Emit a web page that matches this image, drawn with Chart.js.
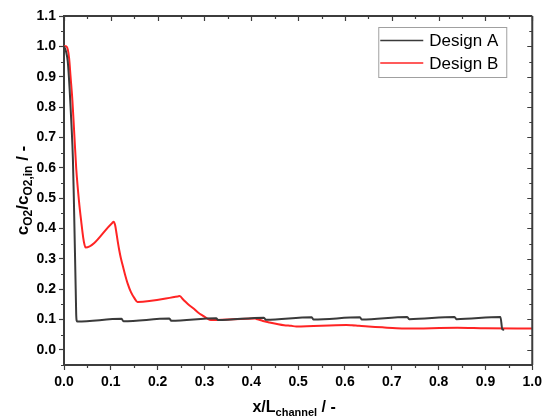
<!DOCTYPE html>
<html>
<head>
<meta charset="utf-8">
<script src="https://cdn.jsdelivr.net/npm/chart.js@4.4.1/dist/chart.umd.min.js"></script>
<style>
  html, body { margin: 0; padding: 0; background: #fff; }
</style>
</head>
<body>
<canvas id="chart-o2" width="546" height="416"></canvas>
<script>
// series names + colours
var seriesNames = ['Design A', 'Design B'];
var colors = ['#3a3a3a', '#ff2424'];

// Design A
var xA = [0, 0.004, 0.008, 0.012, 0.016, 0.019, 0.021, 0.023, 0.025, 0.026, 0.027, 0.029,
          0.123, 0.127, 0.225, 0.229, 0.325, 0.329, 0.427, 0.431, 0.529, 0.533,
          0.632, 0.636, 0.733, 0.737, 0.834, 0.838, 0.932, 0.936, 0.94];
var yA = [1.0, 0.985, 0.95, 0.86, 0.74, 0.63, 0.5, 0.35, 0.2, 0.12, 0.097, 0.093,
          0.102, 0.094, 0.103, 0.096, 0.104, 0.098, 0.106, 0.099, 0.107, 0.1,
          0.107, 0.1, 0.108, 0.101, 0.108, 0.101, 0.108, 0.068, 0.066];

// Design B
var xB = [0, 0.004, 0.008, 0.011, 0.014, 0.018, 0.022, 0.026, 0.032, 0.037, 0.041, 0.044, 0.046,
          0.103, 0.106, 0.109, 0.112, 0.115, 0.118, 0.121, 0.125, 0.13, 0.136, 0.143, 0.15, 0.157,
          0.243, 0.247, 0.255, 0.265, 0.276, 0.287, 0.297, 0.305, 0.311, 0.318,
          0.408, 0.413, 0.425, 0.439, 0.455, 0.47, 0.485, 0.496,
          0.603, 0.615, 0.63, 0.65, 0.68, 0.71, 0.73,
          0.84, 0.9, 1.0];
var yB = [1.0, 1.0, 0.99, 0.96, 0.9, 0.82, 0.71, 0.6, 0.49, 0.42, 0.37, 0.345, 0.337,
          0.418, 0.422, 0.412, 0.385, 0.355, 0.328, 0.305, 0.28, 0.25, 0.218, 0.19, 0.171, 0.158,
          0.176, 0.177, 0.165, 0.15, 0.137, 0.122, 0.112, 0.104, 0.099, 0.098,
          0.103, 0.101, 0.095, 0.09, 0.085, 0.081, 0.079, 0.077,
          0.082, 0.081, 0.079, 0.077, 0.074, 0.071, 0.07,
          0.073, 0.071, 0.07];

// ticks
var xTicks = [0.0, 0.1, 0.2, 0.3, 0.4, 0.5, 0.6, 0.7, 0.8, 0.9, 1.0];
var yTicks = [0.0, 0.1, 0.2, 0.3, 0.4, 0.5, 0.6, 0.7, 0.8, 0.9, 1.0, 1.1];

var axisColor = '#3c3c3c';
var fontName = '"Liberation Sans", Arial, sans-serif';

function toPoints(xs, ys) {
  return xs.map(function (x, i) { return { x: x, y: ys[i] }; });
}

// text with subscripts, parts = [[text, isSub], ...]
function drawRich(ctx, parts, x, y, size, subSize) {
  var total = 0;
  parts.forEach(function (p) {
    ctx.font = 'bold ' + (p[1] ? subSize : size) + 'px ' + fontName;
    total += ctx.measureText(p[0]).width;
  });
  var cx = x - total / 2;
  ctx.textAlign = 'left';
  ctx.textBaseline = 'alphabetic';
  parts.forEach(function (p) {
    ctx.font = 'bold ' + (p[1] ? subSize : size) + 'px ' + fontName;
    ctx.fillText(p[0], cx, y + (p[1] ? 4 : 0));
    cx += ctx.measureText(p[0]).width;
  });
}

// frame, minor ticks, inside ticks on top/right, axis titles
var framePlugin = {
  id: 'frame',
  afterDraw: function (chart) {
    var ctx = chart.ctx, a = chart.chartArea;
    var xs = chart.scales.x, ys = chart.scales.y;
    ctx.save();
    ctx.strokeStyle = axisColor;
    ctx.fillStyle = '#000';
    ctx.lineWidth = 2;
    ctx.beginPath();
    ctx.moveTo(a.left, a.top); ctx.lineTo(a.right, a.top);
    ctx.moveTo(a.right, a.top); ctx.lineTo(a.right, a.bottom);
    ctx.stroke();

    ctx.lineWidth = 1.2;
    ctx.beginPath();
    for (var v = 0; v <= 1.0001; v += 0.05) {
      var px = Math.round(xs.getPixelForValue(v)) + 0.5;
      var major = Math.abs(v * 10 - Math.round(v * 10)) < 0.01;
      if (!major) { ctx.moveTo(px, a.bottom); ctx.lineTo(px, a.bottom + 3); }
      ctx.moveTo(px, a.top); ctx.lineTo(px, a.top + (major ? 5 : 3));
    }
    for (var w = -0.05; w <= 1.1001; w += 0.05) {
      var py = Math.round(ys.getPixelForValue(w)) + 0.5;
      var maj = Math.abs(w * 10 - Math.round(w * 10)) < 0.01;
      if (!maj) { ctx.moveTo(a.left, py); ctx.lineTo(a.left - 3, py); }
      ctx.moveTo(a.right, py); ctx.lineTo(a.right - (maj ? 5 : 3), py);
    }
    ctx.stroke();

    // axis titles
    drawRich(ctx, [['x/L', false], ['channel', true], [' / -', false]],
             (a.left + a.right) / 2 - 4, 412, 16, 11);
    ctx.translate(28, (a.top + a.bottom) / 2);
    ctx.rotate(-Math.PI / 2);
    drawRich(ctx, [['c', false], ['O2', true], ['/c', false], ['O2,in', true], [' / -', false]],
             0, 0, 17, 12);
    ctx.restore();
  }
};

// boxed legend in upper right of plot
var legendPlugin = {
  id: 'boxLegend',
  afterDraw: function (chart) {
    var ctx = chart.ctx, a = chart.chartArea;
    var right = a.right - 26, top = a.top + 11;
    var left = right - 128, h = 50;
    ctx.save();
    ctx.fillStyle = '#fff';
    ctx.fillRect(left, top, right - left, h);
    ctx.strokeStyle = '#a0a0a0';
    ctx.lineWidth = 1;
    ctx.strokeRect(left + 0.5, top + 0.5, right - left, h);
    ctx.font = '17px ' + fontName;
    ctx.textBaseline = 'middle';
    ctx.textAlign = 'left';
    chart.data.datasets.forEach(function (ds, i) {
      var cy = top + 13.5 + i * 22.5;
      ctx.strokeStyle = ds.borderColor;
      ctx.lineWidth = 1.6;
      ctx.beginPath();
      ctx.moveTo(left + 2, cy); ctx.lineTo(left + 45, cy);
      ctx.stroke();
      ctx.fillStyle = '#000';
      ctx.fillText(ds.label, left + 51, cy + 1);
    });
    ctx.restore();
  }
};

var ctxO2 = document.getElementById('chart-o2');
var chartO2 = new Chart(ctxO2, {
  type: 'line',
  data: {
    datasets: [
      {
        label: seriesNames[0],
        data: toPoints(xA, yA),
        borderColor: colors[0],
        borderWidth: 2,
        pointRadius: 0,
        cubicInterpolationMode: 'monotone',
        fill: false
      },
      {
        label: seriesNames[1],
        data: toPoints(xB, yB),
        borderColor: colors[1],
        borderWidth: 2,
        pointRadius: 0,
        cubicInterpolationMode: 'monotone',
        fill: false
      }
    ]
  },
  options: {
    responsive: false,
    animation: false,
    devicePixelRatio: 1,
    layout: { padding: { top: 16, right: 13, left: 0, bottom: 0 } },
    plugins: {
      legend: { display: false },
      tooltip: { enabled: false }
    },
    scales: {
      x: {
        type: 'linear',
        min: 0, max: 1.0,
        afterBuildTicks: function (s) { s.ticks = xTicks.map(function (v) { return { value: v }; }); },
        afterFit: function (s) { s.height = 51; },
        ticks: {
          color: '#000',
          padding: 4,
          maxRotation: 0,
          font: { family: fontName, size: 14, weight: 'bold' },
          callback: function (v) { return Number(v).toFixed(1); }
        },
        grid: { display: true, drawOnChartArea: false, drawTicks: true, tickLength: 5, tickColor: axisColor, tickWidth: 1.2 },
        border: { display: true, color: axisColor, width: 2 }
      },
      y: {
        type: 'linear',
        min: -0.05, max: 1.1,
        afterBuildTicks: function (s) { s.ticks = yTicks.map(function (v) { return { value: v }; }); },
        afterFit: function (s) { s.width = 64; },
        ticks: {
          color: '#000',
          padding: 3,
          font: { family: fontName, size: 14, weight: 'bold' },
          callback: function (v) { return Number(v).toFixed(1); }
        },
        grid: { display: true, drawOnChartArea: false, drawTicks: true, tickLength: 5, tickColor: axisColor, tickWidth: 1.2 },
        border: { display: true, color: axisColor, width: 2 }
      }
    }
  },
  plugins: [framePlugin, legendPlugin]
});
</script>
</body>
</html>
